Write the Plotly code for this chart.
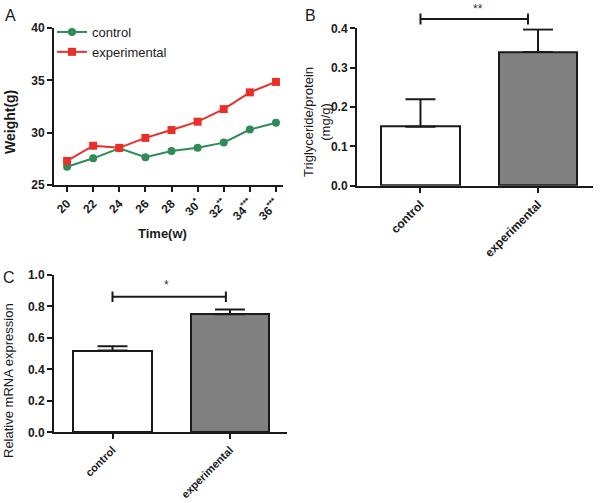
import plotly.graph_objects as go

# ---- data ----
weeks = [20, 22, 24, 26, 28, 30, 32, 34, 36]
week_labels = ["20", "22", "24", "26", "28", "30<sup>*</sup>", "32<sup>**</sup>",
               "34<sup>***</sup>", "36<sup>***</sup>"]
weight_control = [26.75, 27.55, 28.5, 27.65, 28.25, 28.55, 29.05, 30.3, 30.95]
weight_experimental = [27.3, 28.75, 28.55, 29.5, 30.25, 31.05, 32.25, 33.85, 34.85]

groups = ["control", "experimental"]
tg_mean = [0.15, 0.34]
tg_err = [0.07, 0.057]
mrna_mean = [0.52, 0.75]
mrna_err = [0.027, 0.03]

bar_colors = ["#ffffff", "#808080"]
green = "#2e8b57"
red = "#e8302a"
FONT = "Arial, Liberation Sans, sans-serif"

W, H = 600, 503
def px(x):
    return x / W
def py(y):
    return 1 - y / H

fig = go.Figure()

# Panel A lines
fig.add_trace(go.Scatter(x=weeks, y=weight_control, mode="lines+markers", name="control",
                         line=dict(color=green, width=2),
                         marker=dict(symbol="circle", size=8, color=green),
                         xaxis="x", yaxis="y"))
fig.add_trace(go.Scatter(x=weeks, y=weight_experimental, mode="lines+markers", name="experimental",
                         line=dict(color=red, width=2),
                         marker=dict(symbol="square", size=8, color=red),
                         xaxis="x", yaxis="y"))

# Panel B bars
fig.add_trace(go.Bar(x=[0, 1], y=tg_mean, width=0.672,
                     marker=dict(color=bar_colors, line=dict(color="#1a1a1a", width=2)),
                     error_y=dict(type="data", symmetric=False, array=tg_err, arrayminus=[0, 0],
                                  color="#1a1a1a", thickness=2, width=15),
                     showlegend=False, xaxis="x2", yaxis="y2"))

# Panel C bars
fig.add_trace(go.Bar(x=[0, 1], y=mrna_mean, width=0.672,
                     marker=dict(color=bar_colors, line=dict(color="#1a1a1a", width=2)),
                     error_y=dict(type="data", symmetric=False, array=mrna_err, arrayminus=[0, 0],
                                  color="#1a1a1a", thickness=2, width=15),
                     showlegend=False, xaxis="x3", yaxis="y3"))

axis_common = dict(showline=True, linecolor="#1a1a1a", linewidth=2, ticks="outside",
                   ticklen=5, tickwidth=2, tickcolor="#1a1a1a", showgrid=False, zeroline=False,
                   automargin=False)
tf = dict(family=FONT, size=12, color="#1a1a1a", weight="bold")
tf_small = dict(family=FONT, size=11, color="#1a1a1a", weight="bold")

fig.update_layout(
    width=W, height=H, margin=dict(l=0, r=0, t=0, b=0, autoexpand=False),
    paper_bgcolor="white", plot_bgcolor="white",
    font=dict(family=FONT, color="#1a1a1a"),
    bargap=0,
    xaxis=dict(domain=[px(54), px(283)], range=[19.0, 36.54], tickvals=weeks,
               ticktext=week_labels, tickangle=-45, anchor="y", tickfont=tf, **axis_common),
    yaxis=dict(domain=[py(185), py(28)], range=[25, 40], tickvals=[25, 30, 35, 40],
               anchor="x", tickfont=tf, **axis_common),
    xaxis2=dict(domain=[px(357), px(593)], range=[-0.54, 1.468], tickvals=[0, 1],
                ticktext=groups, tickangle=-45, anchor="y2", tickfont=tf, **axis_common),
    yaxis2=dict(domain=[py(185.7), py(28.3)], range=[0, 0.4], tickvals=[0, 0.1, 0.2, 0.3, 0.4],
                tickformat=".1f", anchor="x2", tickfont=tf, **axis_common),
    xaxis3=dict(domain=[px(54), px(287)], range=[-0.498, 1.485], tickvals=[0, 1],
                ticktext=groups, tickangle=-45, anchor="y3", tickfont=tf_small, **axis_common),
    yaxis3=dict(domain=[py(432.3), py(275)], range=[0, 1.0], tickvals=[0, 0.2, 0.4, 0.6, 0.8, 1.0],
                tickformat=".1f", anchor="x3", tickfont=tf, **axis_common),
    legend=dict(x=px(52), y=py(17), xanchor="left", yanchor="top", bgcolor="rgba(0,0,0,0)",
                font=dict(family=FONT, size=13, color="#1a1a1a"), itemwidth=30,
                tracegroupgap=0),
)

# significance brackets
bracket_B = [0.0, 0.915]
bracket_C = [0.0, 0.965]
bracket_C_level = 0.862
lc = dict(color="#1a1a1a", width=2)
yB = py(19)
tB = 5.5 / H
fig.add_shape(type="line", xref="x2", yref="paper", x0=bracket_B[0], x1=bracket_B[1], y0=yB, y1=yB, line=lc)
for xb in bracket_B:
    fig.add_shape(type="line", xref="x2", yref="paper", x0=xb, x1=xb, y0=yB - tB, y1=yB + tB, line=lc)
tC = 0.033
fig.add_shape(type="line", xref="x3", yref="y3", x0=bracket_C[0], x1=bracket_C[1],
              y0=bracket_C_level, y1=bracket_C_level, line=lc)
for xb in bracket_C:
    fig.add_shape(type="line", xref="x3", yref="y3", x0=xb, x1=xb,
                  y0=bracket_C_level - tC, y1=bracket_C_level + tC, line=lc)

C = dict(xanchor="center", yanchor="middle", showarrow=False)
ann = []
ann.append(dict(text="**", x=0.49, y=py(9), xref="x2", yref="paper",
                font=dict(size=12, color="#333"), **C))
ann.append(dict(text="*", x=0.46, y=0.935, xref="x3", yref="y3",
                font=dict(size=12, color="#333"), **C))
# panel letters
for t, x, y in [("A", 10, 15), ("B", 310, 15), ("C", 9, 277)]:
    ann.append(dict(text=t, x=px(x), y=py(y), xref="paper", yref="paper",
                    font=dict(size=16, family=FONT, color="#1a1a1a"), **C))
# axis titles
ann.append(dict(text="<b>Weight(g)</b>", x=px(10), y=py(122), xref="paper", yref="paper",
                textangle=-90, font=dict(size=14, family=FONT), **C))
ann.append(dict(text="<b>Time(w)</b>", x=px(162), y=py(234), xref="paper", yref="paper",
                font=dict(size=13, family=FONT), **C))
ann.append(dict(text="Triglyceride/protein<br>(mg/g)", x=px(317), y=py(122), xref="paper",
                yref="paper", textangle=-90, font=dict(size=13, family=FONT), **C))
ann.append(dict(text="Relative mRNA expression", x=px(8), y=py(381), xref="paper", yref="paper",
                textangle=-90, font=dict(size=13, family=FONT), **C))
fig.update_layout(annotations=ann)

fig.write_html("out.html", config={"displayModeBar": False},
               post_script="document.body.style.margin='0px';")
